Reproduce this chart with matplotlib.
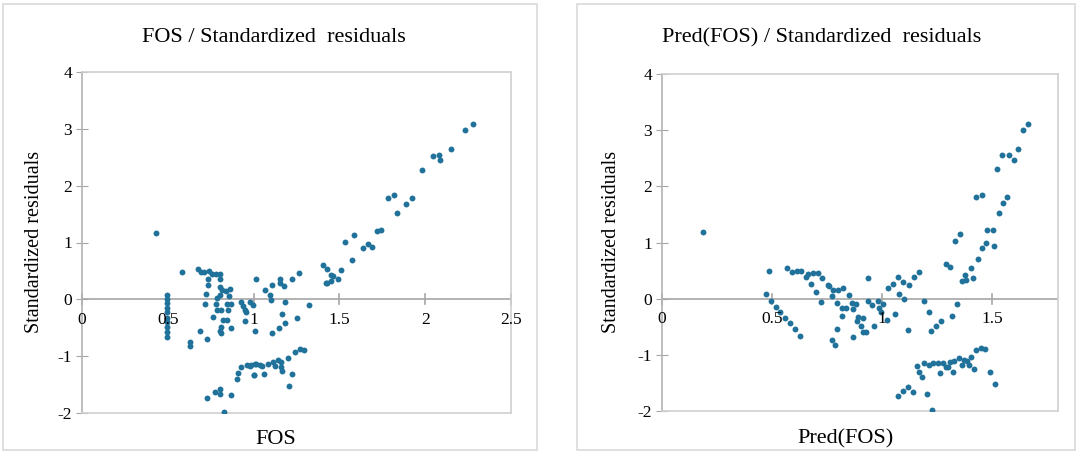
import matplotlib.pyplot as plt
from matplotlib.patches import Rectangle
import numpy as np

plt.rcParams['font.family'] = ['Liberation Serif', 'DejaVu Serif']
plt.rcParams['axes.unicode_minus'] = False

# left panel: FOS vs standardized residuals
fos_x = [0.430, 0.585,
         0.498, 0.498, 0.498, 0.498, 0.498, 0.498, 0.498, 0.498, 0.498, 0.498,
         0.628, 0.628,
         0.678, 0.692, 0.711, 0.740, 0.760, 0.779, 0.802, 0.734, 0.802, 0.734,
         0.802, 0.818, 0.837, 0.864, 0.724, 0.806, 0.856, 0.787, 0.717, 0.783,
         0.845, 0.866, 0.789, 0.808, 0.851, 0.765, 0.822, 0.845, 0.812, 0.870,
         0.690, 0.802, 0.808, 0.730,
         1.012, 0.928, 0.938, 0.948, 0.957, 0.977, 0.948, 1.006, 0.996,
         1.068, 1.097, 1.103, 1.109, 1.151, 1.155, 1.176, 1.225, 1.264, 1.184,
         1.322, 1.165, 1.184, 1.147, 1.109, 1.254,
         1.407, 1.426, 1.451, 1.426, 1.490, 1.510, 1.461, 1.422, 1.451,
         1.572, 1.535, 1.587, 1.636, 1.668, 1.690, 1.719, 1.742, 1.785, 1.818,
         1.835, 1.888, 1.923, 1.979, 2.048, 2.081, 2.087, 2.149, 2.233, 2.279,
         0.830, 0.730, 0.773, 0.802, 0.802, 0.870, 0.905, 0.911, 0.928, 0.961,
         0.977, 1.006, 1.002, 0.983, 1.000, 1.016, 1.035, 1.050, 1.058, 1.083,
         1.112, 1.126, 1.141, 1.157, 1.161, 1.165, 1.200, 1.225, 1.209, 1.244,
         1.271, 1.291]
fos_y = [1.17, 0.48,
         0.07, 0.01, -0.07, -0.15, -0.23, -0.32, -0.40, -0.49, -0.58, -0.67,
         -0.75, -0.82,
         0.54, 0.48, 0.48, 0.50, 0.45, 0.45, 0.44, 0.36, 0.35, 0.25,
         0.22, 0.16, 0.14, 0.18, 0.10, 0.07, 0.05, 0.03, -0.08, -0.09,
         -0.09, -0.09, -0.18, -0.18, -0.19, -0.31, -0.37, -0.36, -0.48, -0.50,
         -0.55, -0.55, -0.60, -0.69,
         0.35, -0.05, -0.12, -0.18, -0.22, -0.05, -0.38, -0.56, -0.10,
         0.17, 0.07, -0.02, 0.26, 0.36, 0.28, 0.23, 0.36, 0.46, -0.05,
         -0.10, -0.25, -0.41, -0.50, -0.59, -0.32,
         0.60, 0.54, 0.42, 0.29, 0.35, 0.51, 0.41, 0.29, 0.32,
         0.70, 1.01, 1.14, 0.90, 0.97, 0.92, 1.20, 1.22, 1.78, 1.83,
         1.52, 1.68, 1.78, 2.28, 2.52, 2.54, 2.45, 2.65, 2.98, 3.08,
         -1.98, -1.73, -1.63, -1.57, -1.67, -1.69, -1.41, -1.30, -1.19, -1.15,
         -1.18, -1.14, -1.33, -1.16, -1.33, -1.13, -1.15, -1.18, -1.31, -1.13,
         -1.10, -1.18, -1.07, -1.11, -1.19, -1.26, -1.03, -1.31, -1.53, -0.92,
         -0.88, -0.90]

# right panel: Pred(FOS) vs standardized residuals
pred_x = [0.188,
          0.486, 0.471, 0.495, 0.517, 0.536, 0.559, 0.582, 0.605, 0.627,
          0.567, 0.589, 0.612, 0.632, 0.655, 0.662, 0.685, 0.707, 0.677, 0.729,
          0.698, 0.723, 0.753, 0.761, 0.779, 0.802, 0.824, 0.771, 0.794, 0.817,
          0.836, 0.850, 0.862, 0.882, 0.867, 0.817, 0.893, 0.888, 0.912, 0.905,
          0.915, 0.927, 0.794, 0.771, 0.786, 0.867, 0.935, 0.935,
          0.956, 0.980, 0.986, 0.995, 1.006, 1.021, 0.965, 1.029, 1.052, 1.074,
          1.094, 1.124, 1.147, 1.168, 1.079, 1.102, 1.059, 1.117, 1.191, 1.214,
          1.221, 1.244, 1.268, 1.317, 1.341, 1.289, 1.311,
          1.362, 1.382, 1.375, 1.412, 1.405, 1.438,
          1.333, 1.356, 1.456, 1.471, 1.509, 1.479, 1.503, 1.429, 1.453, 1.533,
          1.552, 1.568, 1.524, 1.545, 1.576, 1.599, 1.618, 1.639, 1.665,
          1.226, 1.071, 1.094, 1.117, 1.142, 1.206, 1.160, 1.168, 1.183, 1.191,
          1.214, 1.233, 1.256, 1.264, 1.279, 1.291, 1.302, 1.309, 1.321, 1.329,
          1.352, 1.362, 1.374, 1.385, 1.395, 1.405, 1.418, 1.427, 1.448, 1.468,
          1.491, 1.514]
pred_y = [1.18,
          0.49, 0.08, -0.04, -0.14, -0.24, -0.35, -0.43, -0.54, -0.66,
          0.55, 0.47, 0.49, 0.50, 0.38, 0.44, 0.46, 0.46, 0.26, 0.36,
          0.11, -0.06, 0.25, 0.22, 0.16, 0.16, 0.19, 0.04, -0.08, -0.16,
          -0.17, 0.06, -0.08, -0.09, -0.18, -0.30, -0.33, -0.39, -0.35, -0.49,
          -0.59, -0.60, -0.54, -0.74, -0.82, -0.69, 0.37, -0.04,
          -0.11, -0.05, -0.17, -0.23, -0.09, -0.38, -0.49, 0.19, 0.27, 0.38,
          0.29, 0.24, 0.38, 0.47, 0.08, -0.01, -0.27, -0.55, -0.04, -0.24,
          -0.57, -0.49, -0.40, -0.31, -0.09, 0.62, 0.56,
          0.31, 0.34, 0.43, 0.37, 0.54, 0.70,
          1.03, 1.16, 0.91, 0.99, 0.93, 1.22, 1.23, 1.81, 1.85, 1.53,
          1.70, 1.81, 2.30, 2.55, 2.56, 2.47, 2.67, 3.00, 3.11,
          -1.98, -1.73, -1.64, -1.58, -1.67, -1.70, -1.20, -1.30, -1.40, -1.15,
          -1.18, -1.14, -1.15, -1.33, -1.15, -1.21, -1.22, -1.13, -1.31, -1.11,
          -1.06, -1.18, -1.09, -1.11, -1.18, -1.03, -1.26, -0.91, -0.87, -0.90,
          -1.31, -1.52]

dot = '#21729b'

fig = plt.figure(figsize=(10.78, 4.55), dpi=100)

# chart frames
for x0, x1 in [(3, 537), (577, 1075)]:
    fig.patches.append(Rectangle((x0 / 1078, 5 / 455), (x1 - x0) / 1078, 446 / 455,
                                 transform=fig.transFigure, fill=False,
                                 edgecolor='#d9d9d9', lw=1.2))


def panel(rect, xs, ys, xmax, xticks, title, xlabel, tx, lx, ly):
    ax = fig.add_axes(rect)
    ax.scatter(xs, ys, s=18, color=dot, zorder=3, linewidths=0)
    ax.set_xlim(0, xmax)
    ax.set_ylim(-2, 4)
    for sp in ax.spines.values():
        sp.set_color('#d0d0d0')
        sp.set_linewidth(1.2)
    ax.spines['left'].set_color('#b3b3b3')
    ax.axhline(0, color='#a6a6a6', lw=1.2, zorder=1)
    ax.set_yticks(range(-2, 5))
    ax.tick_params(axis='y', direction='inout', length=8, color='#a6a6a6',
                   labelsize=12.5, pad=3)
    ax.set_xticks([])
    for t in xticks:
        ax.plot([t, t], [-0.09, 0.09], color='#a6a6a6', lw=1.2, zorder=1,
                clip_on=False)
        ax.text(t, -0.22, '%g' % t, ha='center', va='top', fontsize=12.5)
    fig.text(tx, 1 - 38 / 455, title, ha='center', va='center', fontsize=16)
    fig.text(lx, 1 - 439 / 455, xlabel, ha='center', va='center', fontsize=16)
    fig.text(ly, 1 - 242 / 455, 'Standardized residuals', rotation=90,
             ha='center', va='center', fontsize=14.5)
    return ax


panel([82 / 1078, 42 / 455, 429 / 1078, 341 / 455], fos_x, fos_y, 2.5,
      [0, 0.5, 1, 1.5, 2, 2.5], 'FOS / Standardized  residuals', 'FOS',
      274 / 1078, 276 / 1078, 35 / 1078)
panel([662 / 1078, 44 / 455, 396 / 1078, 337 / 455], pred_x, pred_y, 1.8,
      [0, 0.5, 1, 1.5], 'Pred(FOS) / Standardized  residuals', 'Pred(FOS)',
      822 / 1078, 846 / 1078, 612 / 1078)

fig.savefig('out.png', dpi=100)
